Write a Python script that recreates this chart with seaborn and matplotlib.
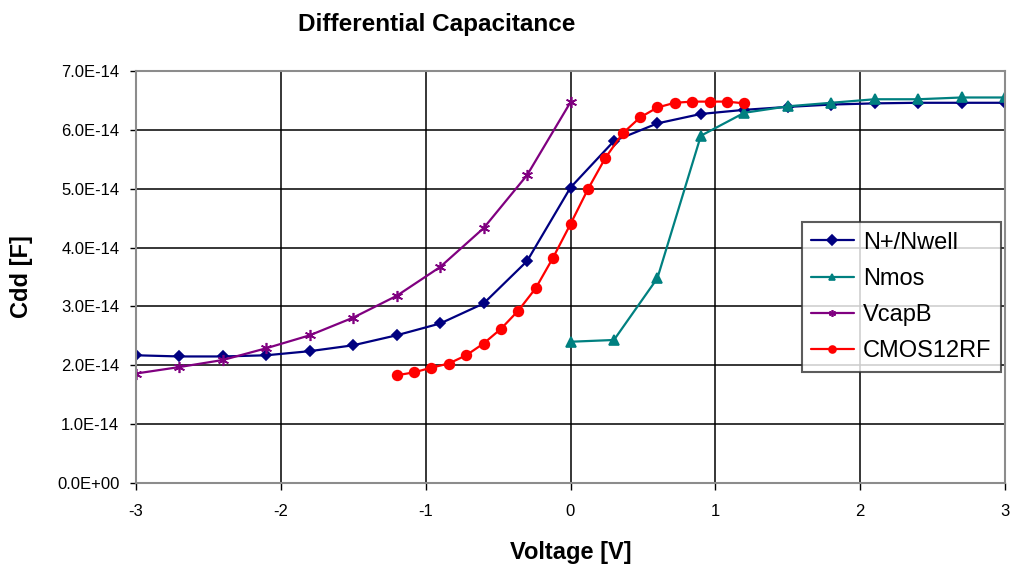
import matplotlib
matplotlib.use("Agg")
import matplotlib.pyplot as plt
from matplotlib.ticker import FuncFormatter, MultipleLocator
import seaborn as sns

sns.set_style("white")
plt.rcParams['font.family'] = ['Liberation Sans', 'DejaVu Sans']
plt.rcParams['axes.unicode_minus'] = False
plt.rcParams['text.color'] = 'black'
plt.rcParams['axes.labelcolor'] = 'black'

# -------------------------------
# Data (capacitance in units of 1E-14 F)
# -------------------------------
v_nwell = [-3.0, -2.7, -2.4, -2.1, -1.8, -1.5, -1.2, -0.9, -0.6, -0.3, 0.0,
           0.3, 0.6, 0.9, 1.2, 1.5, 1.8, 2.1, 2.4, 2.7, 3.0]
c_nwell = [2.17, 2.15, 2.15, 2.17, 2.24, 2.34, 2.51, 2.71, 3.05, 3.77, 5.02,
           5.81, 6.11, 6.27, 6.34, 6.39, 6.43, 6.45, 6.46, 6.46, 6.46]

v_nmos = [0.0, 0.3, 0.6, 0.9, 1.2, 1.5, 1.8, 2.1, 2.4, 2.7, 3.0]
c_nmos = [2.40, 2.43, 3.48, 5.90, 6.29, 6.40, 6.46, 6.52, 6.52, 6.55, 6.55]

v_vcap = [-3.0, -2.7, -2.4, -2.1, -1.8, -1.5, -1.2, -0.9, -0.6, -0.3, 0.0]
c_vcap = [1.86, 1.97, 2.09, 2.29, 2.51, 2.81, 3.18, 3.67, 4.33, 5.23, 6.47]

v_cmos = [-1.2, -1.08, -0.96, -0.84, -0.72, -0.6, -0.48, -0.36, -0.24, -0.12, 0.0,
          0.12, 0.24, 0.36, 0.48, 0.6, 0.72, 0.84, 0.96, 1.08, 1.2]
c_cmos = [1.83, 1.88, 1.96, 2.03, 2.17, 2.37, 2.62, 2.93, 3.31, 3.83, 4.40,
          4.99, 5.52, 5.94, 6.21, 6.38, 6.46, 6.48, 6.48, 6.48, 6.45]

series = [
    ("N+/Nwell", v_nwell, c_nwell, "#000080", "D", 5),
    ("Nmos", v_nmos, c_nmos, "#008080", "^", 7),
    ("VcapB", v_vcap, c_vcap, "#800080", (6, 2, 0), 8),
    ("CMOS12RF", v_cmos, c_cmos, "#FF0000", "o", 7),
]

fig = plt.figure(figsize=(10.1, 5.68), dpi=100)
ax = fig.add_axes([136 / 1010, 85 / 568, 869 / 1010, 412 / 568])

for name, v, c, color, mk, ms in series:
    sns.lineplot(
        x=v,
        y=[val * 1e-14 for val in c],
        ax=ax,
        color=color,
        marker=mk,
        markersize=ms,
        markeredgecolor=color,
        markeredgewidth=1.2,
        linewidth=1.6,
        label=name,
        sort=False,
        estimator=None,
    )

ax.set_xlim(-3, 3)
ax.set_ylim(0, 7e-14)
ax.xaxis.set_major_locator(MultipleLocator(1))
ax.yaxis.set_major_locator(MultipleLocator(1e-14))
ax.yaxis.set_major_formatter(FuncFormatter(lambda v, p: f"{v:.1E}"))

ax.grid(True, color="black", linewidth=1.1)
for sp in ax.spines.values():
    sp.set_color("#8c8c8c")
    sp.set_linewidth(1.5)

ax.tick_params(axis="both", labelsize=12, colors="black")
ax.tick_params(axis="x", direction="out", length=5, width=1, pad=10, bottom=True)
ax.tick_params(axis="y", direction="out", length=4, width=1, pad=8, left=True)

ax.set_xlabel("Voltage [V]", fontsize=17, fontweight="bold", va="center")
ax.set_ylabel("Cdd [F]", fontsize=17, fontweight="bold", va="center")
ax.xaxis.set_label_coords(0.5, (483 - 552) / 412)
ax.yaxis.set_label_coords((22 - 136) / 869, 0.5)

fig.text(437 / 1010, 1 - 25 / 568, "Differential Capacitance",
         fontsize=17.5, fontweight="bold", ha="center", va="center")

leg = ax.legend(
    loc="upper left",
    bbox_to_anchor=(0.766, 0.633),
    borderaxespad=0,
    frameon=True,
    fancybox=False,
    fontsize=17,
    handlelength=1.8,
    handletextpad=0.4,
    labelspacing=0.6,
    borderpad=0.4,
)
leg.get_frame().set_edgecolor("#333333")
leg.get_frame().set_linewidth(1.5)
for h in leg.legend_handles:
    h.set_markersize(5)

plt.savefig("out.png", dpi=100)
plt.close()
